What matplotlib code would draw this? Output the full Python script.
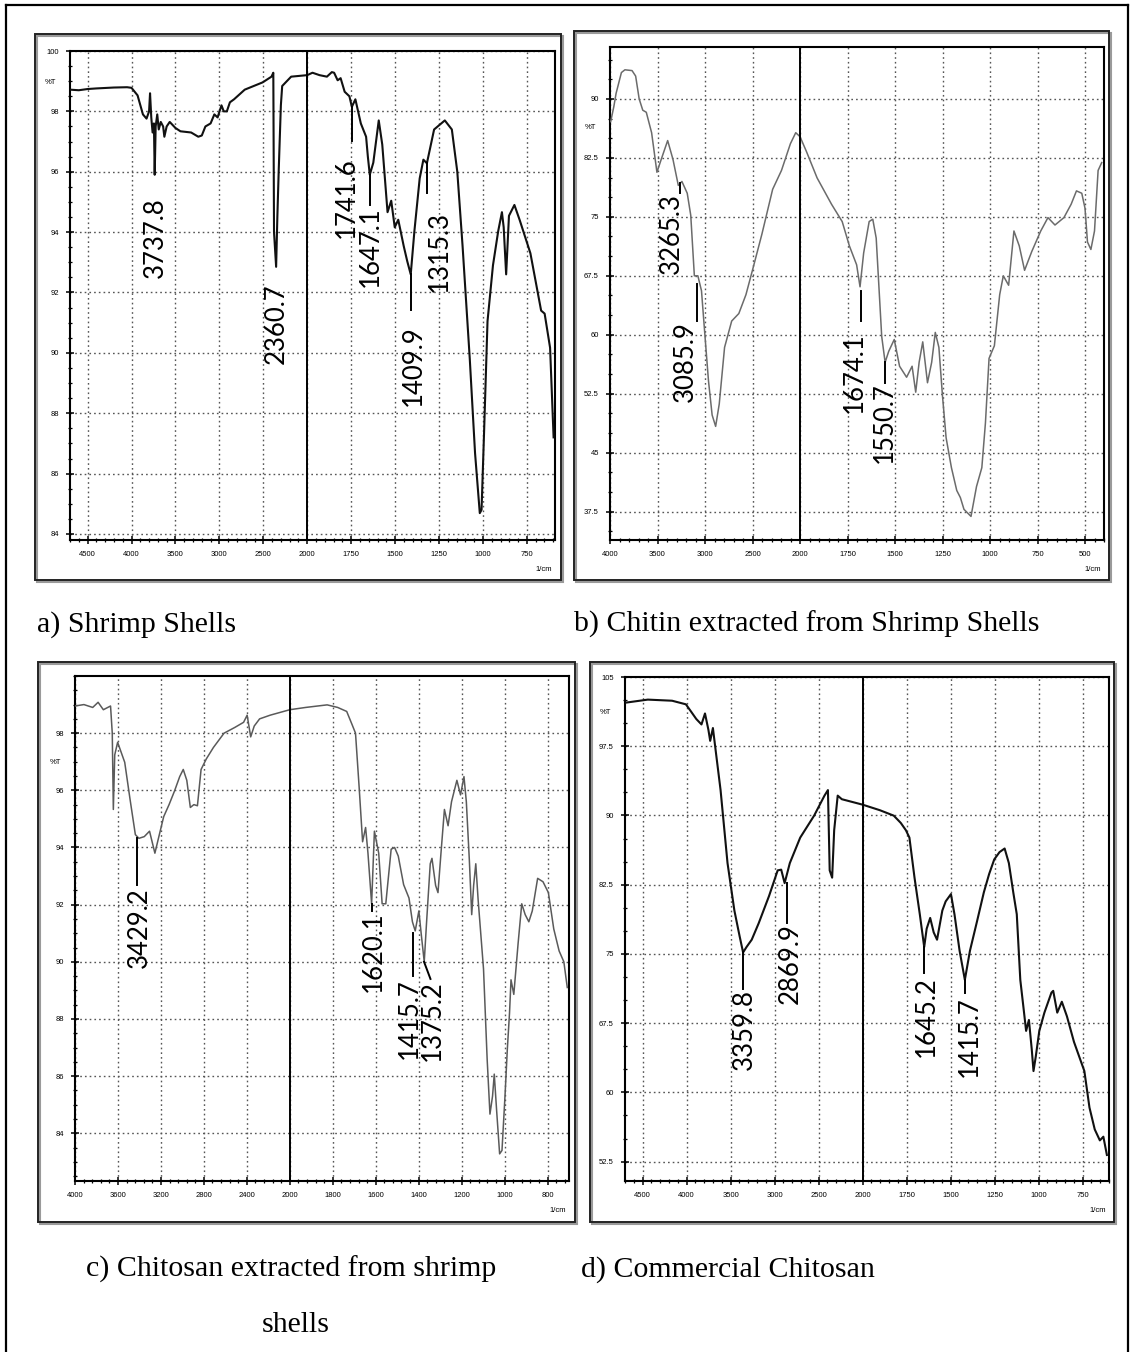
import numpy as np
import matplotlib
matplotlib.use("Agg")
import matplotlib.pyplot as plt
from matplotlib.patches import Rectangle
from matplotlib.lines import Line2D
from matplotlib.ticker import FixedLocator, FixedFormatter, NullFormatter

# ---- a) Shrimp shells ----
a_wn = [4703, 4600, 4500, 4400, 4200, 4050, 4000, 3931, 3870, 3829, 3800, 3789, 3775, 3760, 3745,
        3736, 3725, 3707, 3690, 3667, 3640, 3626, 3600, 3565, 3500, 3443, 3321, 3240, 3200, 3159,
        3100, 3057, 3020, 2976, 2950, 2915, 2880, 2833, 2711, 2508, 2407, 2386, 2378, 2354, 2340,
        2325, 2300, 2285, 2183, 2000, 1970, 1930, 1888, 1860, 1847, 1827, 1810, 1787, 1760, 1746,
        1726, 1695, 1665, 1655, 1644, 1624, 1593, 1573, 1543, 1522, 1502, 1482, 1451, 1431, 1411,
        1390, 1360, 1339, 1319, 1278, 1217, 1177, 1146, 1116, 1075, 1045, 1018, 1008, 994, 974,
        943, 913, 892, 882, 868, 852, 821, 791, 730, 669, 649, 618, 598]
a_t = [98.72, 98.70, 98.74, 98.76, 98.79, 98.80, 98.78, 98.53, 97.90, 97.76, 98.0, 98.6, 97.8, 97.3, 97.6,
       95.9, 97.5, 97.9, 97.4, 97.65, 97.5, 97.16, 97.5, 97.65, 97.45, 97.34, 97.3, 97.16, 97.2, 97.5,
       97.6, 97.9, 97.8, 98.2, 98.0, 98.0, 98.3, 98.4, 98.72, 98.96, 99.15, 99.28, 94.0, 92.85, 94.5,
       96.0, 98.2, 98.84, 99.15, 99.2, 99.28, 99.2, 99.15, 99.3, 99.28, 99.03, 99.1, 98.65, 98.5, 98.15,
       98.4, 97.6, 97.16, 96.5, 95.9, 96.3, 97.7, 96.9, 94.66, 95.04, 94.16, 94.41, 93.54, 93.04, 92.6,
       94.04, 95.78, 96.4, 96.28, 97.4, 97.7, 97.4, 96.0, 93.54, 89.8, 86.68, 84.69, 84.8, 87.3, 91.05,
       92.9, 94.04, 94.66, 94.16, 92.6, 94.54, 94.9, 94.4, 93.3, 91.4, 91.3, 90.17, 87.2]
a_labels = ["3737.8", "2360.7", "1741.6", "1647.1", "1409.9", "1315.3"]
a_text_x = [3728, 2354, 1776, 1640, 1394, 1248]
a_text_top = [95.16, 92.3, 96.47, 94.85, 90.92, 94.7]
a_line_x0 = [3736, 2354, 1746, 1644, 1411, 1319]
a_line_y0 = [95.9, 92.85, 98.15, 95.9, 92.6, 96.28]
a_line_x1 = [3736, 2354, 1746, 1644, 1411, 1319]
a_line_y1 = [95.9, 92.85, 97.03, 94.9, 91.42, 95.29]

# ---- b) Chitin ----
b_wn = [3993, 3960, 3936, 3880, 3843, 3768, 3730, 3693, 3655, 3618, 3562, 3506, 3461, 3393, 3337,
        3281, 3243, 3187, 3150, 3112, 3075, 3037, 3000, 2963, 2925, 2888, 2850, 2794, 2719, 2644,
        2569, 2494, 2401, 2288, 2195, 2101, 2045, 2000, 1966, 1910, 1834, 1778, 1740, 1702, 1684,
        1665, 1636, 1617, 1599, 1570, 1552, 1533, 1504, 1476, 1439, 1410, 1391, 1373, 1354, 1329,
        1307, 1288, 1269, 1250, 1231, 1203, 1175, 1156, 1137, 1100, 1071, 1043, 1024, 1005, 977,
        949, 930, 902, 874, 846, 818, 780, 733, 695, 658, 611, 573, 545, 517, 500, 487, 469, 450,
        431, 412]
b_t = [87.1, 89.0, 90.7, 93.35, 93.7, 93.6, 92.9, 90.0, 88.56, 88.3, 85.7, 80.67, 82.3, 84.7, 82.3,
       79.0, 79.5, 78.0, 75.2, 67.5, 67.5, 65.6, 59.8, 54.1, 49.8, 48.35, 51.2, 58.4, 61.75, 62.7,
       65.1, 68.5, 72.8, 78.5, 80.9, 84.3, 85.7, 85.2, 83.3, 79.95, 76.6, 74.4, 71.3, 68.9, 66.1,
       70.4, 74.4, 74.7, 72.3, 59.8, 56.5, 57.9, 59.4, 56.0, 54.6, 56.0, 52.7, 56.5, 59.1, 53.9,
       56.5, 60.3, 58.4, 52.2, 46.9, 43.1, 40.2, 39.3, 37.8, 36.9, 40.7, 43.1, 48.8, 57.0, 58.6,
       65.1, 67.5, 66.3, 73.2, 71.3, 68.2, 70.6, 73.2, 74.9, 73.96, 74.9, 76.6, 78.3, 78.0, 76.1, 71.8,
       70.85, 73.2, 80.9, 81.9]
b_labels = ["3265.3", "3085.9", "1674.1", "1550.7"]
b_text_x = [3356, 3206, 1712, 1555]
b_text_top = [78.0, 61.75, 60.3, 53.9]
b_line_x0 = [3265, 3086, 1680, 1551]
b_line_y0 = [79.3, 66.5, 65.6, 56.5]
b_line_x1 = [3265, 3086, 1680, 1551]
b_line_y1 = [78.0, 61.75, 61.75, 53.9]

# ---- c) Chitosan extracted ----
c_wn = [4000, 3917, 3835, 3785, 3736, 3669, 3653, 3643, 3630, 3603, 3537, 3488, 3438, 3405, 3355,
        3306, 3256, 3223, 3174, 3124, 3074, 3025, 2992, 2959, 2926, 2893, 2860, 2826, 2777, 2711,
        2612, 2512, 2430, 2397, 2364, 2331, 2281, 2182, 2000, 1926, 1826, 1777, 1735, 1710, 1694,
        1677, 1661, 1647, 1636, 1619, 1606, 1586, 1570, 1553, 1528, 1512, 1495, 1470, 1445, 1429,
        1416, 1399, 1387, 1374, 1363, 1346, 1338, 1321, 1310, 1296, 1280, 1263, 1247, 1222, 1205,
        1189, 1178, 1164, 1153, 1144, 1134, 1123, 1098, 1081, 1068, 1056, 1048, 1037, 1023, 1012,
        998, 987, 977, 970, 957, 937, 920, 904, 887, 871, 846, 821, 796, 771, 746, 724, 708]
c_t = [98.95, 99.0, 98.9, 99.08, 98.82, 98.95, 98.0, 95.33, 97.24, 97.68, 96.98, 95.7, 94.45, 94.32, 94.38,
       94.57, 93.8, 94.32, 95.08, 95.5, 95.97, 96.48, 96.73, 96.35, 95.4, 95.5, 95.46, 96.73, 97.1, 97.5,
       98.0, 98.2, 98.38, 98.63, 97.87, 98.25, 98.5, 98.63, 98.82, 98.9, 98.99, 98.9, 98.76, 98.3, 98.0,
       96.1, 94.2, 94.7, 93.8, 92.03, 94.57, 93.8, 92.03, 92.03, 93.94, 94.0, 93.7, 92.7, 92.23, 91.4,
       91.08, 91.78, 90.9, 90.0, 91.4, 93.43, 93.62, 92.67, 92.42, 93.81, 95.33, 94.76, 95.6, 96.35, 95.84,
       96.48, 95.6, 93.56, 91.65, 92.67, 93.43, 92.16, 89.75, 86.58, 84.67, 85.3, 86.07, 84.8, 83.28, 83.4,
       85.3, 86.96, 88.2, 89.37, 88.86, 90.64, 92.03, 91.65, 91.4, 91.78, 92.92, 92.8, 92.42, 91.15, 90.38,
       90.0, 89.1]
c_labels = ["3429.2", "1620.1", "1415.7", "1375.2"]
c_text_x = [3405, 1611, 1445, 1338]
c_text_top = [92.6, 91.78, 89.43, 89.37]
c_line_x0 = [3421, 1619, 1424, 1375]
c_line_y0 = [94.32, 92.03, 91.0, 90.0]
c_line_x1 = [3421, 1619, 1424, 1345]
c_line_y1 = [92.67, 91.78, 89.5, 89.4]

# ---- d) Commercial chitosan ----
d_wn = [4685, 4441, 4165, 4008, 3949, 3890, 3831, 3791, 3752, 3732, 3701, 3673, 3614, 3535, 3457,
        3398, 3358, 3319, 3260, 3181, 3063, 2965, 2925, 2886, 2827, 2709, 2551, 2433, 2394, 2374,
        2346, 2323, 2283, 2236, 2000, 1902, 1823, 1783, 1754, 1734, 1705, 1675, 1650, 1636, 1616,
        1596, 1577, 1547, 1528, 1498, 1478, 1449, 1419, 1390, 1350, 1311, 1281, 1252, 1222, 1193,
        1169, 1144, 1124, 1104, 1085, 1071, 1055, 1039, 1029, 1016, 996, 967, 927, 917, 894, 868,
        839, 799, 740, 711, 681, 652, 632, 612]
d_t = [102.23, 102.55, 102.43, 102.04, 101.25, 100.45, 99.86, 101.05, 99.27, 98.08, 99.47, 97.29, 92.75,
       84.84, 79.7, 76.94, 75.16, 75.75, 76.54, 78.32, 81.28, 84.05, 84.13, 82.67, 84.84, 87.6, 89.98,
       92.15, 92.75, 84.05, 83.26, 88.4, 92.15, 91.76, 91.17, 90.57, 89.98, 89.19, 88.4, 87.6, 83.26,
       79.3, 75.75, 77.73, 78.9, 77.33, 76.54, 79.7, 80.69, 81.48, 79.3, 75.35, 72.19, 75.35, 78.52,
       81.68, 83.66, 85.24, 86.03, 86.42, 84.84, 81.68, 79.3, 72.19, 69.03, 66.66, 67.85, 64.68, 62.31,
       63.89, 66.66, 68.64, 70.81, 71.0, 68.64, 69.82, 68.24, 65.47, 62.31, 58.36, 55.99, 54.8, 55.2,
       53.22]
d_labels = ["3359.8", "2869.9", "1645.2", "1415.7"]
d_text_x = [3346, 2827, 1636, 1394]
d_text_top = [71.2, 78.32, 72.6, 70.4]
d_line_x0 = [3358, 2858, 1650, 1417]
d_line_y0 = [75.16, 82.67, 75.75, 72.19]
d_line_x1 = [3358, 2858, 1650, 1417]
d_line_y1 = [71.2, 78.3, 72.98, 70.8]

# axis ticks / ranges
a_xticks = [4500, 4000, 3500, 3000, 2500, 2000, 1750, 1500, 1250, 1000, 750]
b_xticks = [4000, 3500, 3000, 2500, 2000, 1750, 1500, 1250, 1000, 750, 500]
c_xticks = [4000, 3600, 3200, 2800, 2400, 2000, 1800, 1600, 1400, 1200, 1000, 800]
d_xticks = [4500, 4000, 3500, 3000, 2500, 2000, 1750, 1500, 1250, 1000, 750]
a_yticks = [84, 86, 88, 90, 92, 94, 96, 98, 100]
b_yticks = [37.5, 45, 52.5, 60, 67.5, 75, 82.5, 90]
c_yticks = [84, 86, 88, 90, 92, 94, 96, 98]
d_yticks = [52.5, 60, 67.5, 75, 82.5, 90, 97.5, 105]

captions = ["a) Shrimp Shells", "b) Chitin extracted from Shrimp Shells",
            "c) Chitosan extracted from shrimp\n\nshells", "d) Commercial Chitosan"]

W, H = 1131, 1352


def fwd(x):
    x = np.asarray(x, dtype=float)
    return np.where(x > 2000, 2000 + (x - 2000) / 2.0, x)


def inv(u):
    u = np.asarray(u, dtype=float)
    return np.where(u > 2000, 2000 + 2.0 * (u - 2000), u)


def fig_rect(l, t, r, b):
    return [l / W, 1 - b / H, (r - l) / W, (b - t) / H]


def fmt(v):
    return ("%g" % v)


def draw_panel(ax, wn, t, color, lw, xlim, ylim, xticks, xminor, yticks, yminor, pct_y,
               labels, tx, ttop, lx0, ly0, lx1, ly1):
    ax.set_xscale("function", functions=(fwd, inv))
    ax.plot(wn, t, color=color, lw=lw, zorder=3)
    ax.set_xlim(*xlim)
    ax.set_ylim(*ylim)
    ax.xaxis.set_major_locator(FixedLocator(xticks))
    ax.xaxis.set_major_formatter(FixedFormatter([fmt(v) for v in xticks]))
    ax.xaxis.set_minor_locator(FixedLocator(xminor))
    ax.xaxis.set_minor_formatter(NullFormatter())
    ax.yaxis.set_major_locator(FixedLocator(yticks))
    ax.yaxis.set_major_formatter(FixedFormatter([fmt(v) for v in yticks]))
    ax.yaxis.set_minor_locator(FixedLocator(yminor))
    ax.yaxis.set_minor_formatter(NullFormatter())
    ax.tick_params(which="major", direction="inout", length=6, width=1.1, labelsize=5.5, pad=5)
    ax.tick_params(which="minor", direction="inout", length=3.5, width=0.9)
    ax.grid(True, which="major", ls=(0, (1.2, 2.2)), color="#555555", lw=1.0)
    ax.axvline(2000, color="black", lw=1.4, zorder=4)
    for sp in ax.spines.values():
        sp.set_linewidth(1.5)
    ax.annotate("%T", xy=(0, pct_y), xycoords=ax.get_yaxis_transform(), xytext=(-10, 0),
                textcoords="offset points", ha="right", va="center", fontsize=5.5)
    ax.annotate("1/cm", xy=(1, 0), xycoords="axes fraction", xytext=(-2, -21),
                textcoords="offset points", ha="right", va="center", fontsize=5.5)
    for i, lab in enumerate(labels):
        ax.plot([lx0[i], lx1[i]], [ly0[i], ly1[i]], color="black", lw=1.4, zorder=5)
        ax.text(tx[i], ttop[i], lab, rotation=90, ha="center", va="top",
                fontsize=18.5, family="Lato", zorder=6)


def minor_ticks(hi_start, hi_step, lo_stop, lo_step):
    hi = list(np.arange(hi_start, 2000, -hi_step))
    lo = list(np.arange(2000, lo_stop, -lo_step))
    return hi + lo


fig = plt.figure(figsize=(W / 100, H / 100), dpi=100)
plt.rcParams["font.family"] = "Liberation Sans"

# outer frame (left, top, right)
fig.add_artist(Line2D([6 / W, 6 / W], [0, 1 - 5 / H], transform=fig.transFigure, color="black", lw=1.6))
fig.add_artist(Line2D([6 / W, 1128 / W], [1 - 5 / H, 1 - 5 / H], transform=fig.transFigure, color="black", lw=1.6))
fig.add_artist(Line2D([1128 / W, 1128 / W], [0, 1 - 5 / H], transform=fig.transFigure, color="black", lw=1.6))

# panel boxes with a light shadow
boxes = [(35, 34, 561, 580), (574, 31, 1109, 580), (38, 662, 575, 1222), (590, 662, 1114, 1222)]
for l, t, r, b in boxes:
    x, y, w, h = fig_rect(l + 2, t + 2, r + 2, b + 2)
    fig.add_artist(Rectangle((x, y), w, h, transform=fig.transFigure, fill=False, ec="#9a9a9a", lw=1.5))
    x, y, w, h = fig_rect(l, t, r, b)
    fig.add_artist(Rectangle((x, y), w, h, transform=fig.transFigure, fill=False, ec="#222222", lw=1.4))

ax_a = fig.add_axes(fig_rect(70, 51, 555, 540))
ax_b = fig.add_axes(fig_rect(610, 47, 1104, 540))
ax_c = fig.add_axes(fig_rect(75, 676, 569, 1181))
ax_d = fig.add_axes(fig_rect(625, 677, 1109, 1181))

draw_panel(ax_a, a_wn, a_t, "#111111", 1.5, (4700, 590), (83.8, 100), a_xticks,
           minor_ticks(4700, 100, 580, 50), a_yticks, list(np.arange(84, 100.01, 0.5)), 98.96,
           a_labels, a_text_x, a_text_top, a_line_x0, a_line_y0, a_line_x1, a_line_y1)
draw_panel(ax_b, b_wn, b_t, "#6b6b6b", 1.1, (4000, 400), (33.9, 96.6), b_xticks,
           minor_ticks(4000, 100, 390, 50), b_yticks, list(np.arange(35, 96.6, 2.5)), 86.4,
           b_labels, b_text_x, b_text_top, b_line_x0, b_line_y0, b_line_x1, b_line_y1)
draw_panel(ax_c, c_wn, c_t, "#5a5a5a", 1.1, (4000, 700), (82.33, 100), c_xticks,
           minor_ticks(4000, 80, 690, 40), c_yticks, list(np.arange(82.5, 100.01, 0.5)), 96.96,
           c_labels, c_text_x, c_text_top, c_line_x0, c_line_y0, c_line_x1, c_line_y1)
draw_panel(ax_d, d_wn, d_t, "#111111", 1.5, (4700, 600), (50.4, 105), d_xticks,
           minor_ticks(4700, 100, 590, 50), d_yticks, list(np.arange(52.5, 105.01, 2.5)), 101.1,
           d_labels, d_text_x, d_text_top, d_line_x0, d_line_y0, d_line_x1, d_line_y1)

# captions
cap_font = dict(family="Liberation Serif", fontsize=21.5, va="baseline")
fig.text(37 / W, 1 - 632 / H, captions[0], ha="left", **cap_font)
fig.text(574 / W, 1 - 632 / H, captions[1], ha="left", **cap_font)
fig.text(291 / W, 1 - 1277 / H, captions[2].split("\n")[0], ha="center", **cap_font)
fig.text(296 / W, 1 - 1332 / H, captions[2].split("\n")[-1], ha="center", **cap_font)
fig.text(581 / W, 1 - 1277 / H, captions[3], ha="left", **cap_font)

fig.savefig("out.png", dpi=100)
